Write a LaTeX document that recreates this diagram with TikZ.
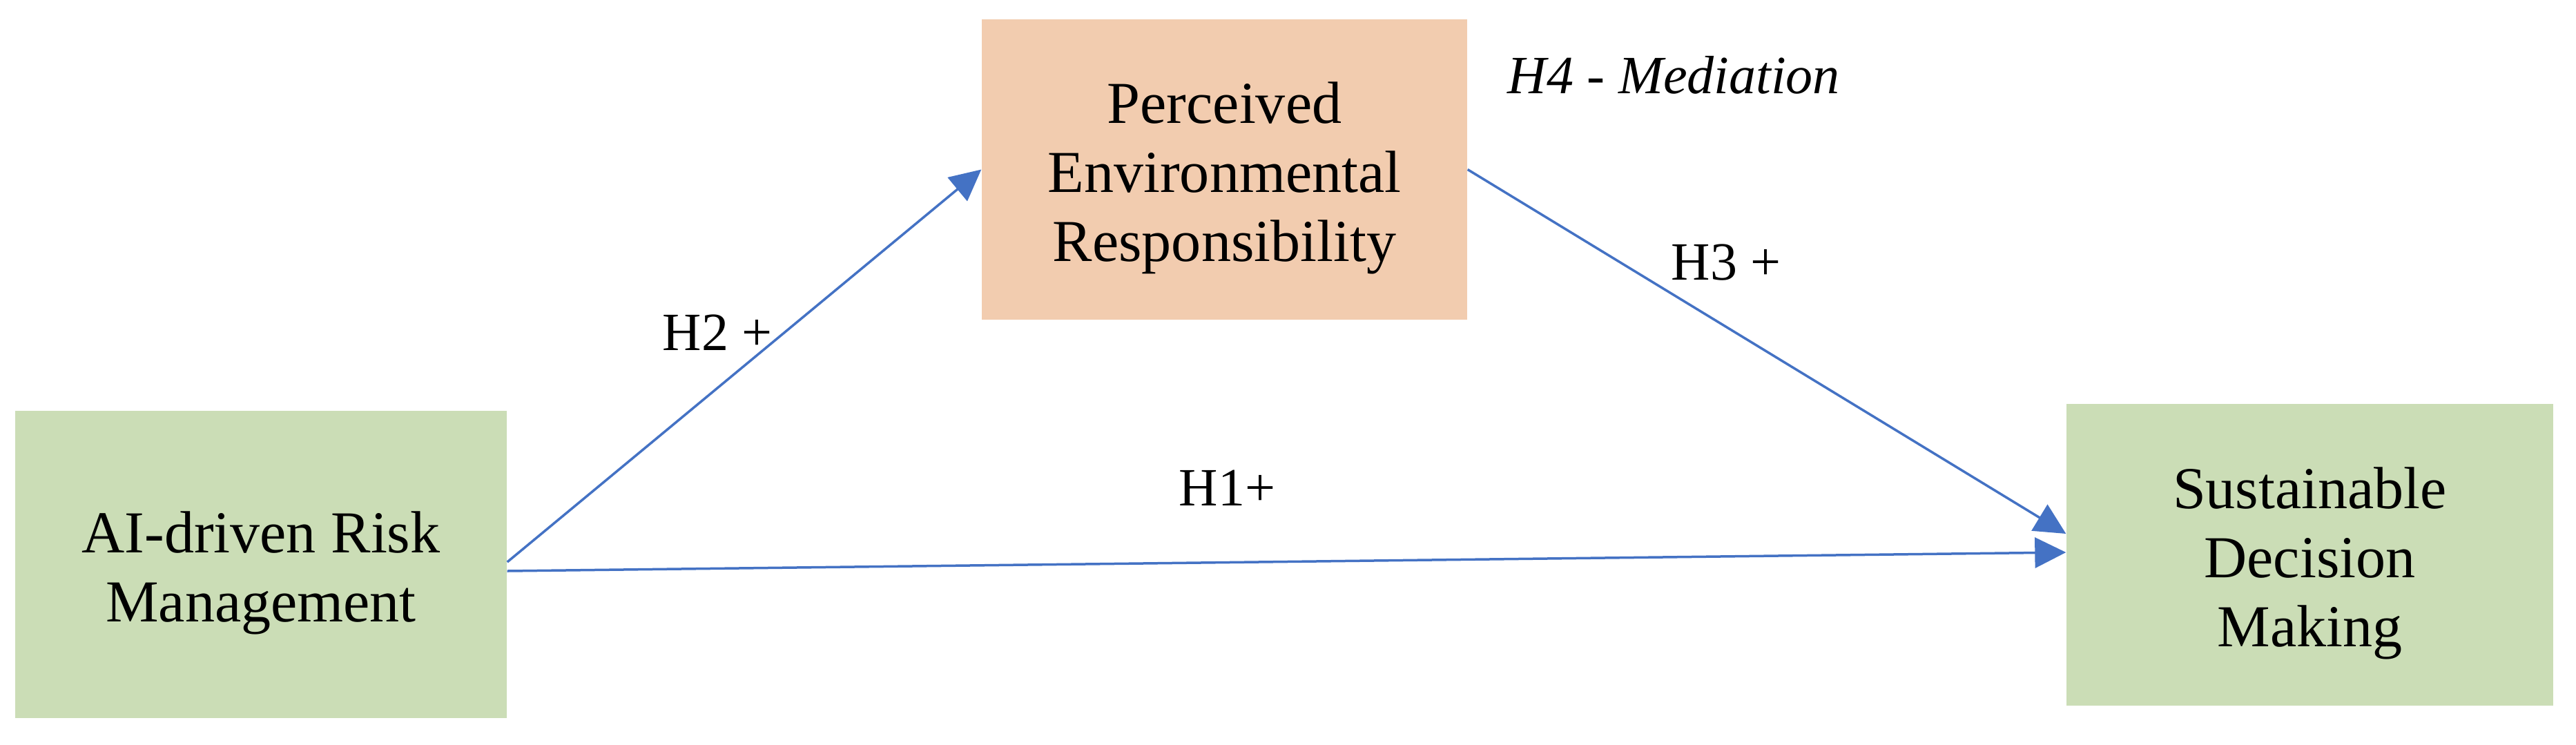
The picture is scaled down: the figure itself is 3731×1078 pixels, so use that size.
\documentclass[tikz,border=0pt]{standalone}
\usepackage{fontspec}
\setmainfont{Liberation Serif}
\usetikzlibrary{arrows.meta}
\definecolor{boxgreen}{HTML}{CBDDB6}
\definecolor{boxorange}{HTML}{F2CCAF}
\definecolor{arrowblue}{HTML}{4472C4}
\newcommand{\tstrut}{\rule{0pt}{8.5mm}}
\tikzset{
  varbox/.style={rectangle, draw=none, align=center, inner sep=0pt,
    font=\fontsize{24.5}{28.45}\selectfont},
  greenbox/.style={varbox, fill=boxgreen},
  orangebox/.style={varbox, fill=boxorange},
  hlabel/.style={anchor=base west, inner sep=0pt, font=\fontsize{22.2}{26}\selectfont},
  path arrow/.style={draw=arrowblue, line width=0.35mm,
    -{Triangle[length=4.5mm,width=4.4mm]}, fill=none}
}
\begin{document}
\begin{tikzpicture}[x=0.1mm,y=-0.1mm]
\useasboundingbox (0,0) rectangle (3731,1078);
\fill[white] (0,0) rectangle (3731,1078);

\node[greenbox, minimum width=71.2mm, minimum height=44.5mm] (L) at (378,817.5)
  {\tstrut AI-driven Risk\\Management};
\node[orangebox, minimum width=70.3mm, minimum height=43.5mm] (M) at (1773.5,245.5)
  {\tstrut Perceived\\Environmental\\Responsibility};
\node[greenbox, minimum width=70.5mm, minimum height=43.7mm] (R) at (3345.5,803.5)
  {\tstrut Sustainable\\Decision\\Making};

\draw[path arrow] ([yshift=0.35mm]L.east) -- (M.west);
\draw[path arrow] ([yshift=-0.95mm]L.east) -- ([yshift=0.35mm]R.west);
\draw[path arrow] (M.east) -- ([yshift=3.05mm]R.west);

\node[hlabel] (h2) at (959,507) {H2 +};
\node[hlabel] (h1) at (1707,732) {H1+};
\node[hlabel] (h3) at (2420,405) {H3 +};
\node[hlabel, font=\fontsize{22.2}{26}\selectfont\itshape] (h4) at (2183,135) {H4 - Mediation};
\end{tikzpicture}
\end{document}
